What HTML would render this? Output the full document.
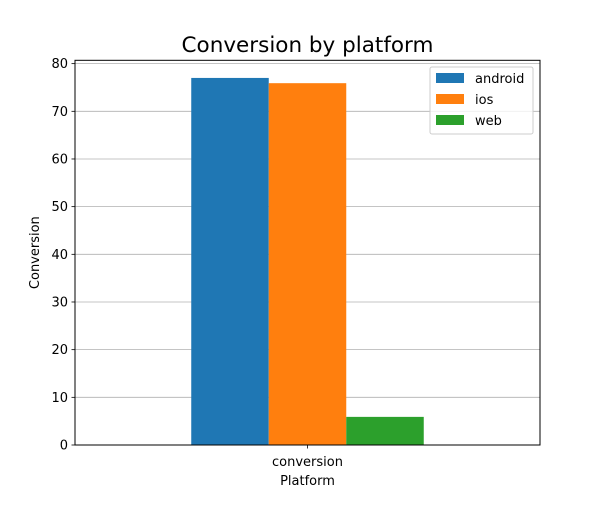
<!DOCTYPE html>
<html><head><meta charset="utf-8"><style>
body{margin:0;background:#fff;font-family:"Liberation Sans","DejaVu Sans",sans-serif;}
svg text{font-family:"DejaVu Sans","Liberation Sans",sans-serif;}
</style></head><body>
<svg id="chart" width="600" height="500" xmlns="http://www.w3.org/2000/svg"></svg>
<script>
const categories = ["conversion"];
const seriesNames = ["android", "ios", "web"];
const seriesValues = [[77.0], [75.9], [5.9]];
const yTicks = [0, 10, 20, 30, 40, 50, 60, 70, 80];
const colors = ["#1f77b4", "#ff7f0e", "#2ca02c"];

const svg = document.getElementById('chart');
const NS = 'http://www.w3.org/2000/svg';
const L = 75, R = 540, T = 60.3, B = 445;
const yMax = 80.7;
function y(v){ return B - v / yMax * (B - T); }
const groupW = 465, barW = 77.5;
function xc(i){ return L + groupW * (i + 0.5) / categories.length; }
function mk(tag, attrs){ const e = document.createElementNS(NS, tag); for (const k in attrs) e.setAttribute(k, attrs[k]); svg.appendChild(e); return e; }

// grid
yTicks.forEach(t => {
  const g = mk('line', {x1:L, x2:R, y1:y(t), y2:y(t), stroke:'#b0b0b0', 'stroke-width':0.8});
  
  
});
// bars
seriesNames.forEach((s, si) => {
  categories.forEach((c, ci) => {
    const v = seriesValues[si][ci];
    const x0 = xc(ci) - barW * seriesNames.length / 2 + si * barW;
    const r = mk('rect', {x:x0, y:y(v), width:barW, height:B - y(v), fill:colors[si]});
    
    
  });
});
// axes box
const box = mk('rect', {x:L, y:T, width:R-L, height:B-T, fill:'none', stroke:'#000', 'stroke-width':1});


// y ticks
yTicks.forEach(t => {
  mk('line', {x1:L-3.5, x2:L, y1:y(t), y2:y(t), stroke:'#000', 'stroke-width':0.8});
  const tx = mk('text', {x:L-7, y:y(t)+4.5, 'text-anchor':'end', 'font-size':13});
  tx.textContent = t;
  
  
});
// x ticks
categories.forEach((c, i) => {
  mk('line', {x1:xc(i), x2:xc(i), y1:B, y2:B+3.5, stroke:'#000', 'stroke-width':0.8});
  const tx = mk('text', {x:xc(i), y:B+21, 'text-anchor':'middle', 'font-size':13});
  tx.textContent = c;
  
  
});
const xt = mk('text', {x:(L+R)/2, y:485, 'text-anchor':'middle', 'font-size':13});
xt.textContent = 'Platform';


const yt = mk('text', {x:0, y:0, 'text-anchor':'middle', 'font-size':13, transform:'translate(39,'+((T+B)/2)+') rotate(-90)'});
yt.textContent = 'Conversion';


const title = mk('text', {x:(L+R)/2, y:52, 'text-anchor':'middle', 'font-size':21.5});
title.textContent = 'Conversion by platform';


// legend
const lg = mk('rect', {x:430, y:67, width:103, height:67, fill:'#fff', 'fill-opacity':0.8, stroke:'#ccc', rx:2});


seriesNames.forEach((s, i) => {
  const yy = 73 + i * 21;
  const sw = mk('rect', {x:436, y:yy, width:28, height:10, fill:colors[i]});
  
  
  const t = mk('text', {x:475, y:yy+10, 'font-size':13});
  t.textContent = s;
  
  
});
</script>
</body></html>
